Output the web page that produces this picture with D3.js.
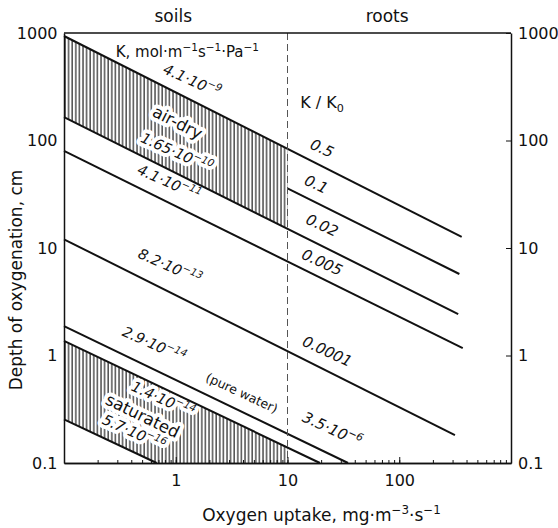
<!DOCTYPE html>
<html>
<head>
<meta charset="utf-8">
<script src="https://cdn.jsdelivr.net/npm/d3@7"></script>
<style>
  body { margin: 0; background: #fff; }
  svg { font-family: "DejaVu Sans", sans-serif; }
</style>
</head>
<body>
<div id="chart"></div>
<script>
// ---- data ----
var xDomain = [0.1, 1000];          // oxygen uptake, mg m-3 s-1
var yDomain = [0.1, 1000];          // depth of oxygenation, cm
var xTickValues = [1, 10, 100];
var yTickValues = [0.1, 1, 10, 100, 1000];
var boundary = 10;                  // soils | roots divide

// soil conductances K (mol m-1 s-1 Pa-1)
var soilK = [4.1e-9, 1.65e-10, 4.1e-11, 8.2e-13, 2.9e-14, 1.4e-14, 5.7e-16];
// root K/K0
var rootRatio = [0.5, 0.1, 0.02, 0.005, 0.0001, 3.5e-6];

// the eight straight lines: start and end points [uptake, depth]
var lineStartX = [0.1, 10, 0.1, 0.1, 0.1, 0.1, 0.1, 0.1];
var lineStartY = [938, 35.9, 165, 80, 12.05, 1.88, 1.37, 0.255];
var lineEndX = [362, 345, 337, 370, 315, 34.8, 19.5, 0.675];
var lineEndY = [12.7, 5.73, 2.43, 1.17, 0.182, 0.1, 0.1, 0.1];

// where each label sits [uptake, depth]
var soilLabelAt = [[1.34, 328], [0.98, 70], [0.835, 36.9], [0.85, 6.11], [0.613, 1.15], [0.74, 0.355], [0.406, 0.175]];
var rootLabelAt = [[19.5, 76.5], [17.3, 35.4], [19.5, 14.7], [19.5, 6.66], [21.7, 0.989], [24, 0.186]];

var svgWidth = 558;
var svgHeight = 528;
var margin = { top: 33, right: 47, bottom: 65, left: 64 };
var width = svgWidth - margin.left - margin.right;
var height = svgHeight - margin.top - margin.bottom;

var svg = d3.select("#chart").append("svg")
    .attr("width", svgWidth)
    .attr("height", svgHeight);

var chartGroup = svg.append("g")
    .attr("transform", `translate(${margin.left}, ${margin.top})`);

var x = d3.scaleLog().domain(xDomain).range([0, width]);
var y = d3.scaleLog().domain(yDomain).range([height, 0]);

// helper: text with super/subscripts, parts = [[str, "sup"|"sub"|null], ...]
function rich(sel, parts, fs) {
    var shift = 0;
    parts.forEach(function (p) {
        var target = p[1] === "sup" ? -0.42 * fs : (p[1] === "sub" ? 0.28 * fs : 0);
        sel.append("tspan")
            .attr("dy", target - shift)
            .attr("font-size", p[1] ? fs * 0.7 : fs)
            .text(p[0]);
        shift = target;
    });
    return sel;
}

function sciParts(v) {
    var e = Math.floor(Math.log10(v) + 1e-9);
    var m = +(v / Math.pow(10, e)).toPrecision(3);
    return [[m + "·10", null], ["−" + Math.abs(e), "sup"]];
}

// hatch pattern
var defs = svg.append("defs");
defs.append("pattern")
    .attr("id", "hatch")
    .attr("patternUnits", "userSpaceOnUse")
    .attr("width", 3.6).attr("height", 4)
    .append("line")
    .attr("x1", 1).attr("x2", 1).attr("y1", 0).attr("y2", 4)
    .attr("stroke", "#333").attr("stroke-width", 1.3);

defs.append("clipPath").attr("id", "soilClip")
    .append("rect")
    .attr("x", 0).attr("y", 0)
    .attr("width", x(boundary)).attr("height", height);

var lines = lineStartX.map(function (d, i) {
    return [[lineStartX[i], lineStartY[i]], [lineEndX[i], lineEndY[i]]];
});

// hatched bands: air-dry (lines 0-2), saturated (lines 6-7)
function band(a, b) {
    return [lines[a][0], lines[a][1], lines[b][1], lines[b][0]];
}
var area = d3.line().x(d => x(d[0])).y(d => y(d[1]));
chartGroup.append("g").attr("clip-path", "url(#soilClip)")
    .selectAll("path")
    .data([band(0, 2), band(6, 7)])
    .enter().append("path")
    .attr("d", d => area(d) + "Z")
    .attr("fill", "url(#hatch)");

// label layers: white knock-outs first, then the lines, then the text
var haloLayer = chartGroup.append("g")
    .attr("fill", "#fff").attr("stroke", "#fff").attr("stroke-width", 8)
    .attr("stroke-linejoin", "round");

// lines
chartGroup.selectAll(".kline")
    .data(lines)
    .enter().append("path")
    .attr("class", "kline")
    .attr("d", area)
    .attr("fill", "none")
    .attr("stroke", "#111")
    .attr("stroke-width", 2);

// dashed soils/roots divide
chartGroup.append("line")
    .attr("x1", x(boundary)).attr("x2", x(boundary))
    .attr("y1", 0).attr("y2", height)
    .attr("stroke", "#555")
    .attr("stroke-width", 1)
    .attr("stroke-dasharray", "7,4");

var textLayer = chartGroup.append("g").attr("fill", "#111");

// axes
var fmt = d3.format("~g");
chartGroup.append("g")
    .attr("transform", `translate(0, ${height})`)
    .call(d3.axisBottom(x).tickValues(x.ticks()).tickFormat("").tickSize(-3).tickSizeOuter(0));
chartGroup.append("g")
    .attr("class", "xaxis")
    .attr("transform", `translate(0, ${height})`)
    .call(d3.axisBottom(x).tickValues(xTickValues).tickFormat(fmt).tickSize(-6).tickPadding(12).tickSizeOuter(0));
chartGroup.append("g")
    .attr("class", "yaxis")
    .call(d3.axisLeft(y).tickValues(yTickValues).tickFormat(fmt).tickSize(0).tickPadding(6.5));
chartGroup.append("g")
    .attr("class", "yaxis")
    .attr("transform", `translate(${width}, 0)`)
    .call(d3.axisRight(y).tickValues(yTickValues).tickFormat(fmt).tickSize(-5).tickPadding(7).tickSizeOuter(0));
chartGroup.append("line")
    .attr("x1", 0).attr("x2", width).attr("y1", 0).attr("y2", 0)
    .attr("stroke", "#111").attr("stroke-width", 1.5);

chartGroup.selectAll(".domain").attr("stroke", "#111").attr("stroke-width", 1.5);
chartGroup.selectAll(".tick line").attr("stroke", "#111");
chartGroup.selectAll(".xaxis text, .yaxis text")
    .attr("font-family", "DejaVu Sans")
    .attr("font-size", 16)
    .attr("fill", "#111");

// one label, drawn on the text layer and, if asked, knocked out of the hatch
function label(at, angle, parts, fs, italic, knockout) {
    var layers = knockout ? [haloLayer, textLayer] : [textLayer];
    layers.forEach(function (layer) {
        var t = layer.append("text")
            .attr("transform", `translate(${x(at[0])}, ${y(at[1])}) rotate(${angle})`)
            .attr("text-anchor", "middle")
            .attr("dy", "0.35em")
            .attr("font-style", italic ? "italic" : "normal");
        rich(t, parts, fs);
    });
}

var knock = [false, true, false, false, false, true, true];
soilK.forEach(function (k, i) {
    label(soilLabelAt[i], 24, sciParts(k), 14.5, true, knock[i]);
});
rootRatio.forEach(function (r, i) {
    label(rootLabelAt[i], 25, r < 1e-4 ? sciParts(r) : [[String(r), null]], 15, true, false);
});
label([0.985, 132], 27, [["air-dry", null]], 16.5, false, true);
label([0.479, 0.246], 26, [["saturated", null]], 16.5, false, true);
label([3.76, 0.411], 25, [["(pure water)", null]], 12.5, false, false);

// headers
rich(textLayer.append("text")
    .attr("x", x(0.29)).attr("y", 24),
    [["K, mol·m", null], ["−1", "sup"], ["s", null], ["−1", "sup"], ["·Pa", null], ["−1", "sup"]], 15);
rich(textLayer.append("text")
    .attr("x", x(13)).attr("y", 75),
    [["K / K", null], ["0", "sub"]], 16);

svg.append("text")
    .attr("x", margin.left + x(0.95)).attr("y", 22)
    .attr("text-anchor", "middle").attr("font-size", 17).attr("fill", "#111")
    .text("soils");
svg.append("text")
    .attr("x", margin.left + x(78)).attr("y", 22)
    .attr("text-anchor", "middle").attr("font-size", 17).attr("fill", "#111")
    .text("roots");

// axis titles
rich(svg.append("text")
    .attr("x", margin.left + width / 2 + 34).attr("y", 521)
    .attr("text-anchor", "middle").attr("fill", "#111"),
    [["Oxygen uptake, mg·m", null], ["−3", "sup"], ["·s", null], ["−1", "sup"]], 17);
svg.append("text")
    .attr("transform", "translate(22, 280) rotate(-90)")
    .attr("text-anchor", "middle").attr("font-size", 17).attr("fill", "#111")
    .text("Depth of oxygenation, cm");
</script>
</body>
</html>
